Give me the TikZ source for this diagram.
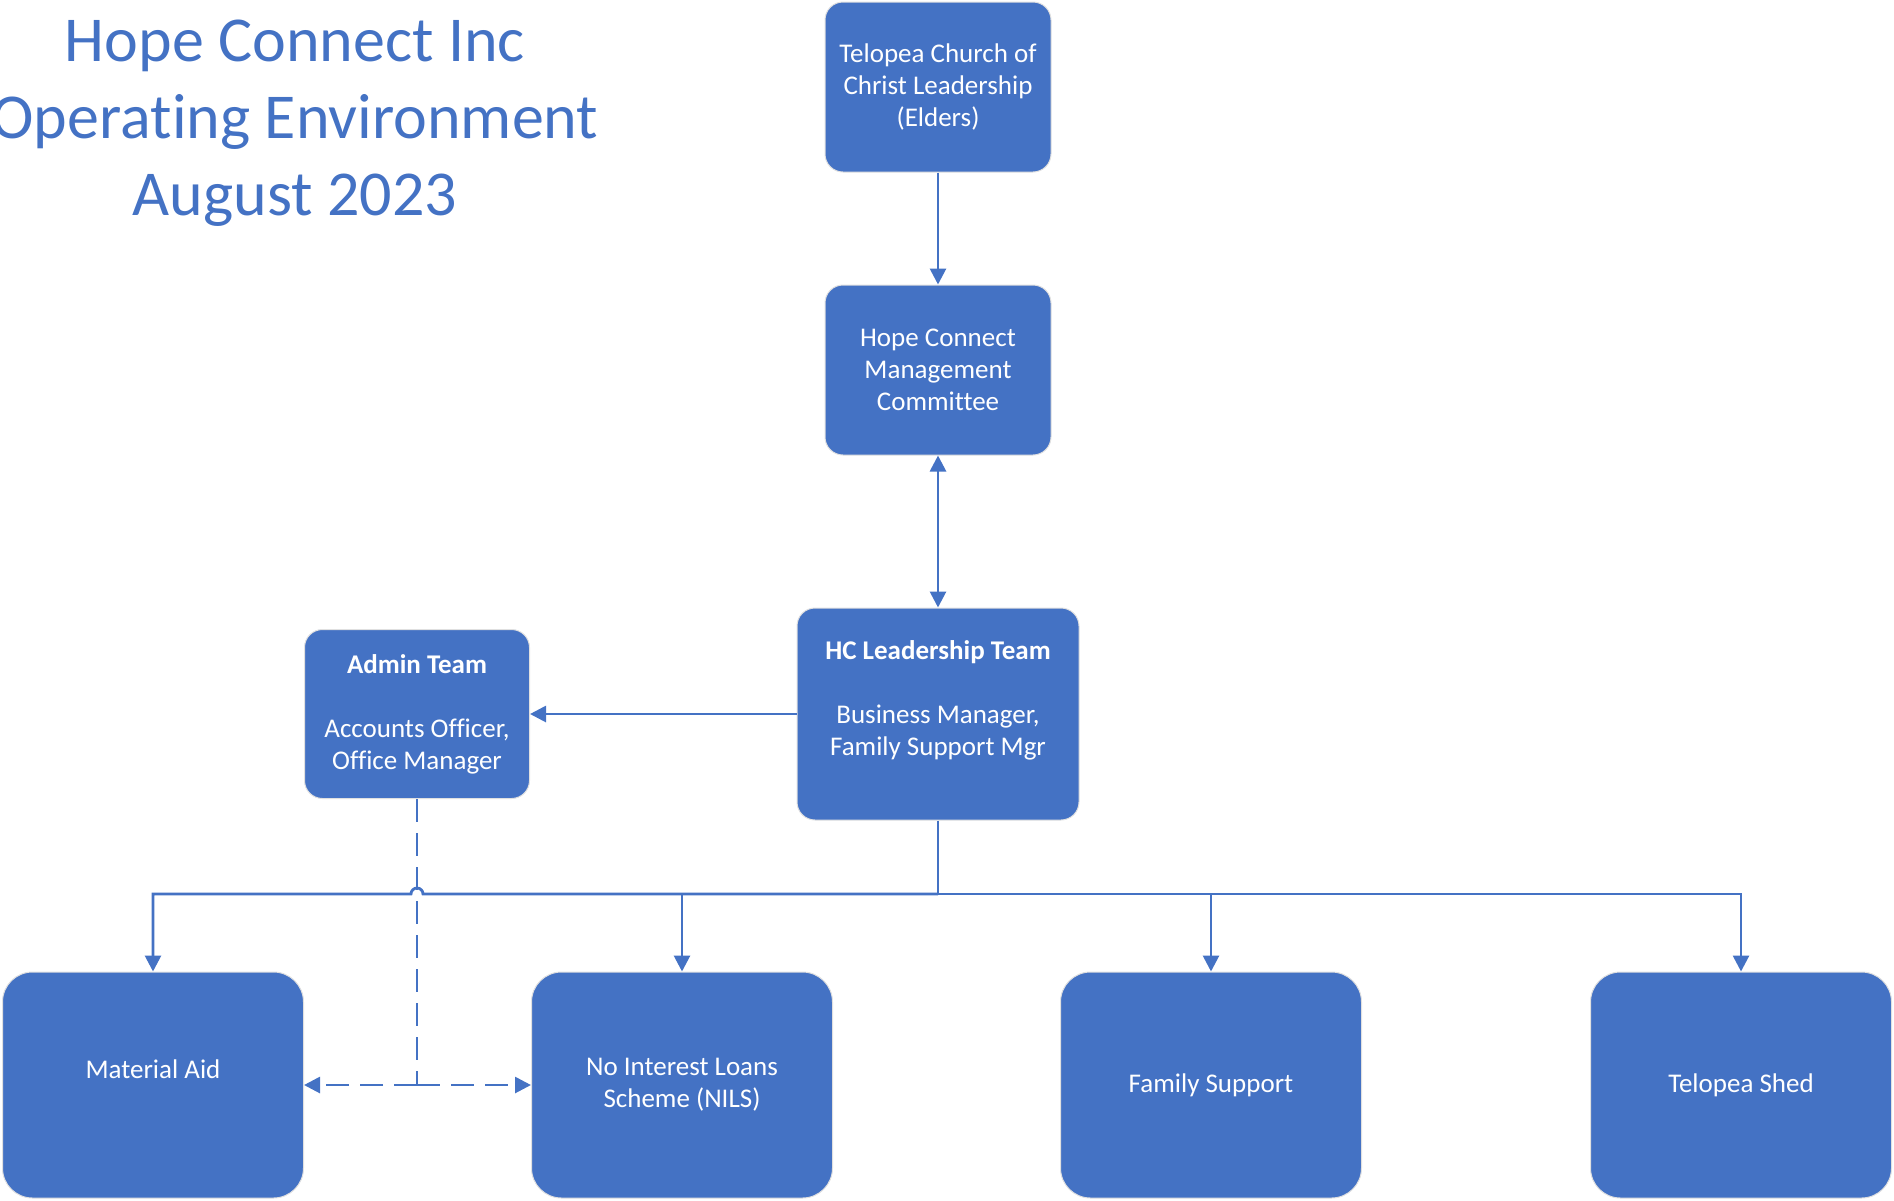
\documentclass[tikz,border=0pt]{standalone}
\usepackage{fontspec}
\setmainfont{Carlito}[Ligatures={NoCommon,NoContextual},Contextuals=NoAlternate]
\usetikzlibrary{arrows.meta}
\definecolor{hcblue}{HTML}{4472C4}

\begin{document}
\begin{tikzpicture}[x=.5pt,y=-.5pt,font=\fontsize{13.5}{16}\selectfont,
  box/.style={fill=hcblue,draw=black!12,line width=.5pt,text=white,align=center,rounded corners=9pt,inner sep=0pt},
  unit/.style={box,rounded corners=15pt,minimum width=150.5pt,minimum height=113pt},
  link/.style={draw=hcblue,line width=1.4pt,-{Triangle[length=8pt,width=8pt]}},
  dashlink/.style={link,dash pattern=on 11.5pt off 5.5pt}]
\useasboundingbox (0,0) rectangle (1894,1200);
\node[text=hcblue,align=center,font=\fontsize{32}{38.5}\selectfont] (title) at (295,123) {Hope Connect Inc\\Operating Environment\\August 2023};
\node[box,minimum width=113pt,minimum height=85pt] (elders) at (938,87) {Telopea Church of\\Christ Leadership\\(Elders)};
\node[box,minimum width=113pt,minimum height=85pt] (committee) at (938,370) {Hope Connect\\Management\\Committee};
\node[box,minimum width=141pt,minimum height=106pt] (lead) at (938,714) {\textbf{HC Leadership Team}\\[16pt]Business Manager,\\Family Support Mgr\\\mbox{}};
\node[box,minimum width=112.5pt,minimum height=84.5pt] (admin) at (417,714) {\textbf{Admin Team}\\[16pt]Accounts Officer,\\Office Manager};
\node[unit] (mat) at (153,1085) {Material Aid\\\mbox{}};
\node[unit] (nils) at (682,1085) {No Interest Loans\\Scheme (NILS)};
\node[unit] (family) at (1211,1085) {Family Support};
\node[unit] (shed) at (1741,1085) {Telopea Shed};
\draw[link] (elders) -- (committee);
\draw[link,{Triangle[length=8pt,width=8pt]}-{Triangle[length=8pt,width=8pt]}] (committee) -- (lead);
\draw[link] (lead) -- (admin);
\coordinate (bus) at (938,894);
\draw[link,-] (lead) -- (bus);
\draw[link] (bus) -| (nils);
\draw[link] (bus) -| (family);
\draw[link] (bus) -| (shed);
\draw[link] (bus) -- (423,894) arc[start angle=0,end angle=180,radius=3pt] -| (mat);
\coordinate (split) at (417,1085);
\draw[dashlink,-] (admin) -- (split);
\draw[dashlink] (split) -- (mat.east |- split);
\draw[dashlink] (split) -- (nils.west |- split);
\end{tikzpicture}
\end{document}
